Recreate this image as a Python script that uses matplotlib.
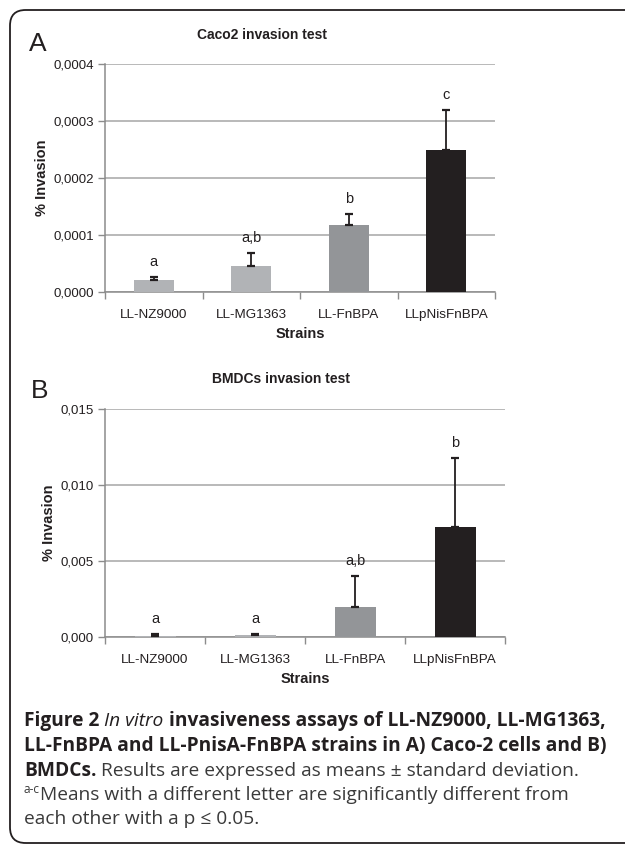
import matplotlib
matplotlib.use('Agg')
import matplotlib.pyplot as plt
from matplotlib.patches import FancyBboxPatch

plt.rcParams['font.family'] = ['Liberation Sans', 'DejaVu Sans']

strains = ['LL-NZ9000', 'LL-MG1363', 'LL-FnBPA', 'LLpNisFnBPA']
bar_colors = ['#b1b3b6', '#b1b3b6', '#939598', '#231f20']

caco_mean = [0.000021, 0.000046, 0.0001175, 0.000249]
caco_sd = [0.000005, 0.000022, 0.000019, 0.00007]
caco_letters = ['a', 'a,b', 'b', 'c']
caco_ticks = [0, 0.0001, 0.0002, 0.0003, 0.0004]
caco_ticklabels = ['0,0000', '0,0001', '0,0002', '0,0003', '0,0004']

bmdc_mean = [0.00006, 0.0001, 0.00197, 0.00724]
bmdc_sd = [0.00014, 0.00008, 0.00203, 0.00451]
bmdc_letters = ['a', 'a', 'a,b', 'b']
bmdc_ticks = [0, 0.005, 0.010, 0.015]
bmdc_ticklabels = ['0,000', '0,005', '0,010', '0,015']

W, H = 625, 846
fig = plt.figure(figsize=(W / 100, H / 100), dpi=100)


def fx(x):
    return x / W


def fy(y):
    return 1 - y / H


# rounded frame around the whole figure
frame = FancyBboxPatch((fx(10), fy(843)), fx(660) - fx(10), fy(10) - fy(843),
                       boxstyle='round,pad=0,rounding_size=0.025',
                       transform=fig.transFigure, fill=False,
                       edgecolor='#231f20', linewidth=1.3, mutation_aspect=W / H)
fig.patches.append(frame)


def panel(rect, means, sds, letters, ticks, ticklabels, title, title_x, title_y, tag, tag_xy):
    ax = fig.add_axes(rect)
    x = range(len(strains))
    ax.bar(x, means, width=0.41, color=bar_colors, zorder=3)
    ax.errorbar(x, means, yerr=[[0] * len(sds), sds], fmt='none', ecolor='#231f20',
                elinewidth=1.3, capsize=2.8, capthick=1.6, zorder=4)
    for i, lab in enumerate(letters):
        ax.annotate(lab, (i, means[i] + sds[i]), xytext=(0, 6), textcoords='offset points',
                    ha='center', va='bottom', fontsize=10.5, color='#231f20')
    ax.set_xlim(-0.5, 3.5)
    ax.set_ylim(ticks[0], ticks[-1])
    ax.set_yticks(ticks, ticklabels)
    ax.set_xticks(list(x), strains)
    ax.set_xticks([-0.5, 0.5, 1.5, 2.5, 3.5], minor=True)
    ax.tick_params(axis='x', which='major', length=0, labelsize=9.7, pad=12.5, colors='#231f20')
    ax.tick_params(axis='x', which='minor', length=5, color='#8c8c8c', width=1)
    ax.tick_params(axis='y', length=5, color='#8c8c8c', width=1, labelsize=9.5,
                   labelcolor='#231f20', pad=3)
    ax.yaxis.grid(True, color='#a6a6a6', linewidth=1.1, zorder=0)
    for s in ['top', 'right']:
        ax.spines[s].set_visible(False)
    for s in ['left', 'bottom']:
        ax.spines[s].set_color('#8c8c8c')
        ax.spines[s].set_linewidth(1.1)
    ax.set_xlabel('Strains', fontsize=10.5, fontweight='bold', labelpad=4, color='#231f20')
    ax.set_ylabel('% Invasion', fontsize=10.5, fontweight='bold', labelpad=3, color='#231f20')
    ax.set_axisbelow(True)
    fig.text(fx(title_x), fy(title_y), title, ha='center', va='center',
             fontsize=10, fontweight='bold', color='#231f20')
    fig.text(fx(tag_xy[0]), fy(tag_xy[1]), tag, ha='center', va='center', fontsize=19,
             color='#231f20')
    return ax


panel([fx(105), fy(292), fx(495) - fx(105), fy(64) - fy(292)],
      caco_mean, caco_sd, caco_letters, caco_ticks, caco_ticklabels,
      'Caco2 invasion test', 262, 35, 'A', (38, 44))
panel([fx(105), fy(637), fx(505) - fx(105), fy(409) - fy(637)],
      bmdc_mean, bmdc_sd, bmdc_letters, bmdc_ticks, bmdc_ticklabels,
      'BMDCs invasion test', 281, 379, 'B', (40, 391))

# caption, built piece by piece so bold / italic / regular can sit on one line
cap_font = ['Open Sans', 'DejaVu Sans']
cap_size = 13.8
styles = {
    'b': dict(fontweight='bold', color='#231f20'),
    'i': dict(fontweight='normal', style='italic', color='#231f20'),
    'r': dict(fontweight='normal', color='#3a3a3a'),
}
caption = [
    (721, [('Figure 2 ', 'b'), ('In vitro', 'i'), (' invasiveness assays of LL-NZ9000, LL-MG1363,', 'b')]),
    (746, [('LL-FnBPA and LL-PnisA-FnBPA strains in A) Caco-2 cells and B)', 'b')]),
    (771, [('BMDCs.', 'b'), (' Results are expressed as means \u00b1 standard deviation.', 'r')]),
    (795, [('a-c', 'sup'), ('Means with a different letter are significantly different from', 'r')]),
    (819, [('each other with a p \u2264 0.05.', 'r')]),
]
renderer = fig.canvas.get_renderer()
for y, pieces in caption:
    xpos = 24
    for txt, st in pieces:
        if st == 'sup':
            t = fig.text(fx(xpos), fy(y - 6), txt, ha='left', va='center', family=cap_font,
                         fontsize=8.5, color='#3a3a3a')
        else:
            t = fig.text(fx(xpos), fy(y), txt, ha='left', va='center', family=cap_font,
                         fontsize=cap_size, **styles[st])
        xpos += t.get_window_extent(renderer).width

fig.savefig('out.png', dpi=100)
